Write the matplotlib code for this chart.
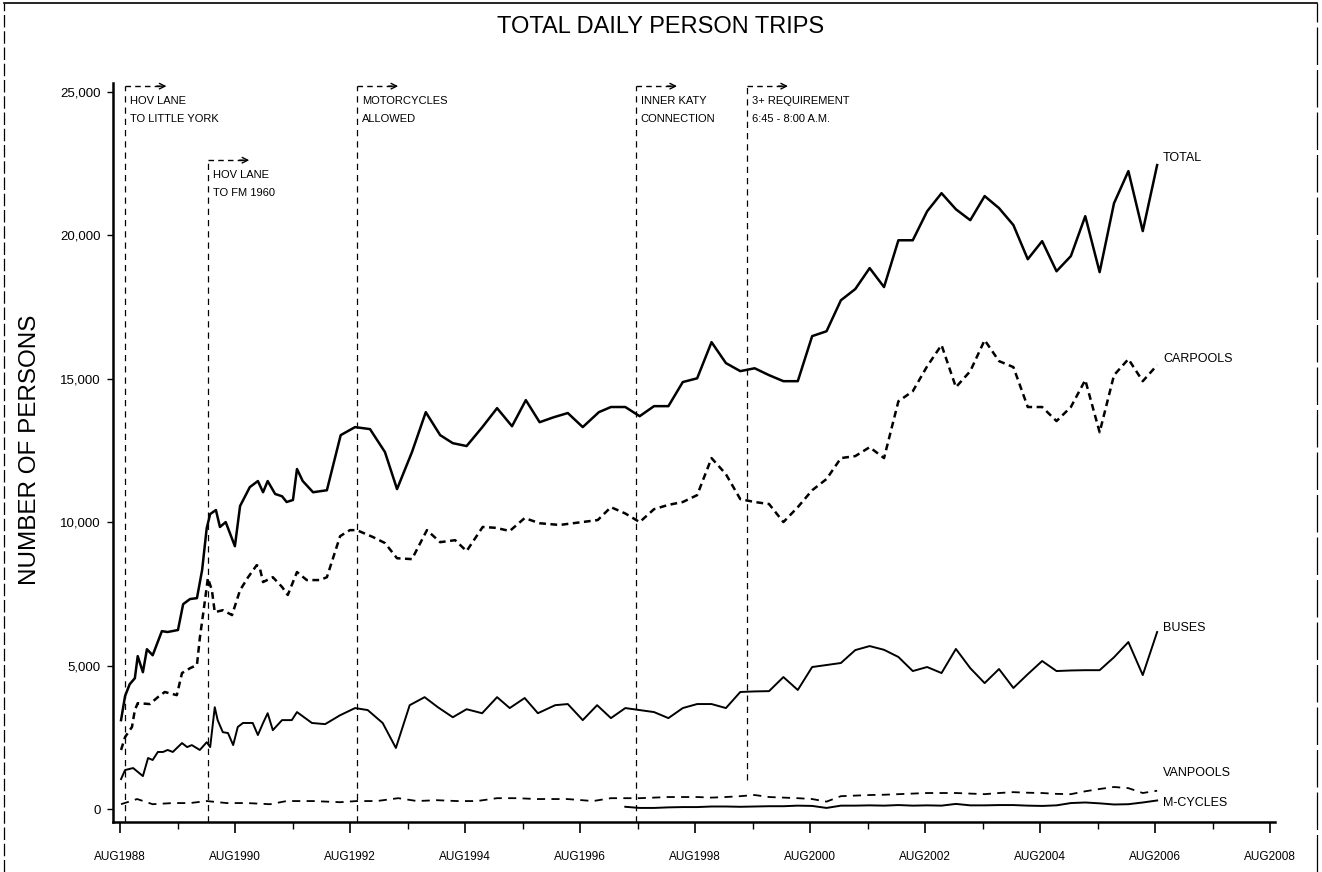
import matplotlib
matplotlib.use("Agg")
import matplotlib.pyplot as plt
from matplotlib import font_manager
from matplotlib.lines import Line2D
from matplotlib.ticker import FixedLocator, FuncFormatter

# fonts: a narrow sans for the small labels if it is there
installed = {f.name for f in font_manager.fontManager.ttflist}
narrow = "Liberation Sans Narrow" if "Liberation Sans Narrow" in installed else "Liberation Sans"
plt.rcParams["font.family"] = ["Liberation Sans", "DejaVu Sans"]

# quarterly readings from 1997 on (decimal years)
late_dates = [1997.12, 1997.37, 1997.62, 1997.87, 1998.12, 1998.37, 1998.62, 1998.87,
              1999.12, 1999.37, 1999.62, 1999.87, 2000.12, 2000.37, 2000.62, 2000.87,
              2001.12, 2001.37, 2001.62, 2001.87, 2002.12, 2002.37, 2002.62, 2002.87,
              2003.12, 2003.37, 2003.62, 2003.87, 2004.12, 2004.37, 2004.62, 2004.87,
              2005.12, 2005.37, 2005.62, 2005.87, 2006.12, 2006.37, 2006.62]

# TOTAL
total_early_dates = [1988.60, 1988.67, 1988.75, 1988.84, 1988.89, 1988.98, 1989.05, 1989.15,
                     1989.31, 1989.41, 1989.59, 1989.68, 1989.80, 1989.92, 1990.01, 1990.09,
                     1990.15, 1990.25, 1990.32, 1990.42, 1990.58, 1990.67, 1990.84, 1990.98,
                     1991.07, 1991.15, 1991.28, 1991.40, 1991.48, 1991.59, 1991.66, 1991.76,
                     1991.94, 1992.18, 1992.42, 1992.67, 1992.93, 1993.19, 1993.40, 1993.66,
                     1993.90, 1994.15, 1994.37, 1994.61, 1994.88, 1995.14, 1995.40, 1995.64,
                     1995.88, 1996.12, 1996.37, 1996.63, 1996.91]
total_early = [3100, 3940, 4350, 4560, 5330, 4770, 5570, 5360,
               6200, 6170, 6240, 7140, 7320, 7350, 8330, 9790,
               10280, 10420, 9830, 10000, 9160, 10560, 11220, 11430,
               11040, 11430, 10980, 10900, 10700, 10770, 11850, 11430,
               11040, 11110, 13030, 13310, 13240, 12440, 11150, 12440,
               13830, 13030, 12750, 12650, 13300, 13970, 13340, 14250,
               13480, 13650, 13800, 13310, 13830]
total_late = [14010, 14010, 13690, 14040, 14040, 14880, 15010, 16270,
              15540, 15260, 15360, 15120, 14910, 14910, 16480, 16650,
              17730, 18120, 18850, 18190, 19820, 19820, 20830, 21460,
              20900, 20520, 21360, 20940, 20350, 19160, 19790, 18740,
              19270, 20660, 18710, 21110, 22230, 20140, 22440]

# CARPOOLS
carpool_early_dates = [1988.60, 1988.67, 1988.79, 1988.84, 1988.89, 1989.10, 1989.24, 1989.36,
                       1989.57, 1989.66, 1989.80, 1989.92, 1989.97, 1990.06, 1990.11, 1990.18,
                       1990.23, 1990.37, 1990.53, 1990.67, 1990.81, 1990.96, 1991.01, 1991.07,
                       1991.24, 1991.40, 1991.50, 1991.66, 1991.83, 1992.06, 1992.18, 1992.41,
                       1992.58, 1992.70, 1992.98, 1993.19, 1993.40, 1993.66, 1993.92, 1994.15,
                       1994.41, 1994.61, 1994.89, 1995.12, 1995.36, 1995.62, 1995.88, 1996.23,
                       1996.46, 1996.89]
carpool_early = [2060, 2510, 2860, 3450, 3690, 3660, 3900, 4080,
                 3970, 4740, 4910, 5020, 5960, 7280, 8050, 7630,
                 6860, 6930, 6760, 7630, 8080, 8500, 8430, 7910,
                 8080, 7740, 7460, 8260, 7980, 7980, 8080, 9510,
                 9720, 9720, 9480, 9270, 8740, 8710, 9720, 9300,
                 9370, 8990, 9830, 9800, 9690, 10140, 9960, 9900,
                 9960, 10070]
carpool_late = [10520, 10300, 10000, 10450, 10600, 10700, 10940, 12230,
                11670, 10800, 10700, 10630, 10000, 10520, 11110, 11500,
                12230, 12300, 12610, 12230, 14210, 14560, 15430, 16170,
                14700, 15260, 16340, 15610, 15400, 14010, 14010, 13520,
                14010, 14950, 13130, 15120, 15680, 14910, 15470]

# BUSES
bus_early_dates = [1988.60, 1988.67, 1988.81, 1988.98, 1989.07, 1989.15, 1989.24, 1989.33,
                   1989.41, 1989.50, 1989.66, 1989.75, 1989.83, 1989.97, 1990.09, 1990.15,
                   1990.23, 1990.28, 1990.37, 1990.46, 1990.55, 1990.63, 1990.72, 1990.89,
                   1990.98, 1991.07, 1991.15, 1991.24, 1991.40, 1991.57, 1991.66, 1991.92,
                   1992.15, 1992.41, 1992.67, 1992.89, 1993.15, 1993.38, 1993.62, 1993.88,
                   1994.11, 1994.37, 1994.61, 1994.88, 1995.14, 1995.36, 1995.62, 1995.85,
                   1996.15, 1996.37, 1996.63, 1996.88]
bus_early = [1045, 1360, 1430, 1150, 1780, 1710, 1990, 1990,
             2060, 1990, 2300, 2160, 2230, 2060, 2330, 2160,
             3550, 3100, 2680, 2650, 2230, 2860, 3000, 3000,
             2580, 3000, 3340, 2750, 3100, 3100, 3380, 3000,
             2960, 3270, 3520, 3450, 3000, 2130, 3620, 3900,
             3550, 3200, 3480, 3340, 3900, 3520, 3870, 3340,
             3620, 3660, 3100, 3620]
bus_late = [3170, 3520, 3450, 3380, 3170, 3520, 3660, 3660,
            3520, 4080, 4100, 4110, 4600, 4150, 4950, 5020,
            5090, 5540, 5680, 5550, 5300, 4810, 4950, 4740,
            5580, 4910, 4390, 4880, 4220, 4700, 5160, 4810,
            4830, 4840, 4840, 5290, 5820, 4670, 6170]

# VANPOOLS
vanpool_early_dates = [1988.60, 1988.88, 1989.15, 1989.50, 1989.80, 1990.09, 1990.44, 1990.79,
                       1991.19, 1991.48, 1991.94, 1992.41, 1992.70, 1993.05, 1993.42, 1993.75,
                       1994.09, 1994.44, 1994.79, 1995.14, 1995.49, 1995.83, 1996.36, 1996.81]
vanpool_early = [170, 350, 170, 210, 210, 280, 210, 210,
                 170, 280, 280, 240, 280, 280, 380, 280,
                 310, 280, 280, 380, 380, 350, 350, 280]
vanpool_late = [380, 380, 380, 400, 420, 420, 420, 400,
                420, 450, 490, 420, 400, 380, 350, 260,
                450, 470, 490, 500, 520, 540, 560, 560,
                560, 540, 520, 560, 590, 570, 560, 530,
                520, 620, 700, 770, 730, 560, 640]

# M-CYCLES (counted from 1997)
mcycle_dates = late_dates[1:]
mcycles = [80, 40, 40, 60, 70, 70, 90,
           90, 80, 90, 100, 100, 120, 110, 40,
           120, 120, 130, 120, 140, 120, 130, 120,
           180, 130, 130, 140, 140, 120, 110, 130,
           210, 230, 200, 160, 170, 230, 300]

# policy changes
event_dates = [1988.67, 1990.11, 1992.70, 1997.55, 1999.48]
event_lines = [("HOV LANE", "TO LITTLE YORK"),
               ("HOV LANE", "TO FM 1960"),
               ("MOTORCYCLES", "ALLOWED"),
               ("INNER KATY", "CONNECTION"),
               ("3+ REQUIREMENT", "6:45 - 8:00 A.M.")]

W, H = 1322, 872
fig = plt.figure(figsize=(W / 100, H / 100), dpi=100)
ax = fig.add_axes([113 / W, 1 - 822 / H, (1275 - 113) / W, (822 - 83) / H])

ax.plot(total_early_dates + late_dates, total_early + total_late, color="k", lw=1.8)
ax.plot(carpool_early_dates + late_dates, carpool_early + carpool_late, color="k",
        lw=1.8, dashes=(2.7, 1.8))
ax.plot(bus_early_dates + late_dates, bus_early + bus_late, color="k", lw=1.4)
ax.plot(vanpool_early_dates + late_dates, vanpool_early + vanpool_late, color="k",
        lw=1.3, dashes=(4.5, 3.5))
ax.plot(mcycle_dates, mcycles, color="k", lw=1.4)

ax.set_xlim(1988.46, 2008.67)
ax.set_ylim(-450, 25300)

# event markers: dashed drop line plus dashed arrow and two text lines
top_y = [25190, 22610, 25190, 25190, 25190]
for i, (d, (l1, l2)) in enumerate(zip(event_dates, event_lines)):
    y0 = top_y[i]
    bottom = 1000 if i == 4 else -450
    ax.plot([d, d], [bottom, y0], color="k", lw=0.9, dashes=(5, 4))
    ax.plot([d, d + 0.62], [y0, y0], color="k", lw=1.0, dashes=(4, 3))
    ax.annotate("", xy=(d + 0.72, y0), xytext=(d + 0.55, y0),
                arrowprops=dict(arrowstyle="->", color="k", lw=1.0,
                                shrinkA=0, shrinkB=0, mutation_scale=10))
    ax.text(d + 0.09, y0 - 520, l1, fontsize=8, family=narrow, va="center", ha="left")
    ax.text(d + 0.09, y0 - 1150, l2, fontsize=8, family=narrow, va="center", ha="left")

# series labels at the line ends
for txt, yv in [("TOTAL", 22700), ("CARPOOLS", 15700), ("BUSES", 6300),
                ("VANPOOLS", 1250), ("M-CYCLES", 200)]:
    ax.text(2006.72, yv, txt, fontsize=9, family=narrow, va="center", ha="left")

for s in ["top", "right"]:
    ax.spines[s].set_visible(False)
for s in ["left", "bottom"]:
    ax.spines[s].set_linewidth(1.8)

ax.xaxis.set_major_locator(FixedLocator([y + 7 / 12 for y in range(1988, 2009, 2)]))
ax.xaxis.set_minor_locator(FixedLocator([y + 7 / 12 for y in range(1989, 2008, 2)]))
ax.xaxis.set_major_formatter(FuncFormatter(lambda v, p: "AUG%d" % int(v)))
ax.yaxis.set_major_locator(FixedLocator(range(0, 25001, 5000)))
ax.yaxis.set_major_formatter(FuncFormatter(lambda v, p: "{:,.0f}".format(v)))
ax.tick_params(axis="x", which="major", length=8, width=1.2, pad=13)
ax.tick_params(axis="x", which="minor", length=5, width=1.0)
ax.tick_params(axis="y", which="major", length=4, width=1.0, pad=5)
for lab in ax.get_xticklabels():
    lab.set_fontfamily(narrow)
    lab.set_fontsize(8.5)
for lab in ax.get_yticklabels():
    lab.set_fontfamily(narrow)
    lab.set_fontsize(9.5)

fig.text(0.5, 1 - 27 / H, "TOTAL DAILY PERSON TRIPS", ha="center", va="center", fontsize=17)
fig.text(30 / W, 1 - 450 / H, "NUMBER OF PERSONS", rotation=90, ha="center",
         va="center", fontsize=17.5)

# scanned page frame
fig.add_artist(Line2D([4 / W, 1317 / W], [1 - 3 / H, 1 - 3 / H], color="k", lw=1.2,
                      transform=fig.transFigure))
fig.add_artist(Line2D([4 / W, 4 / W], [0, 1 - 3 / H], color="k", lw=0.9,
                      dashes=(10, 3), transform=fig.transFigure))
fig.add_artist(Line2D([1317 / W, 1317 / W], [0, 1 - 3 / H], color="k", lw=0.9,
                      dashes=(30, 4), transform=fig.transFigure))

fig.savefig("out.png", dpi=100)
